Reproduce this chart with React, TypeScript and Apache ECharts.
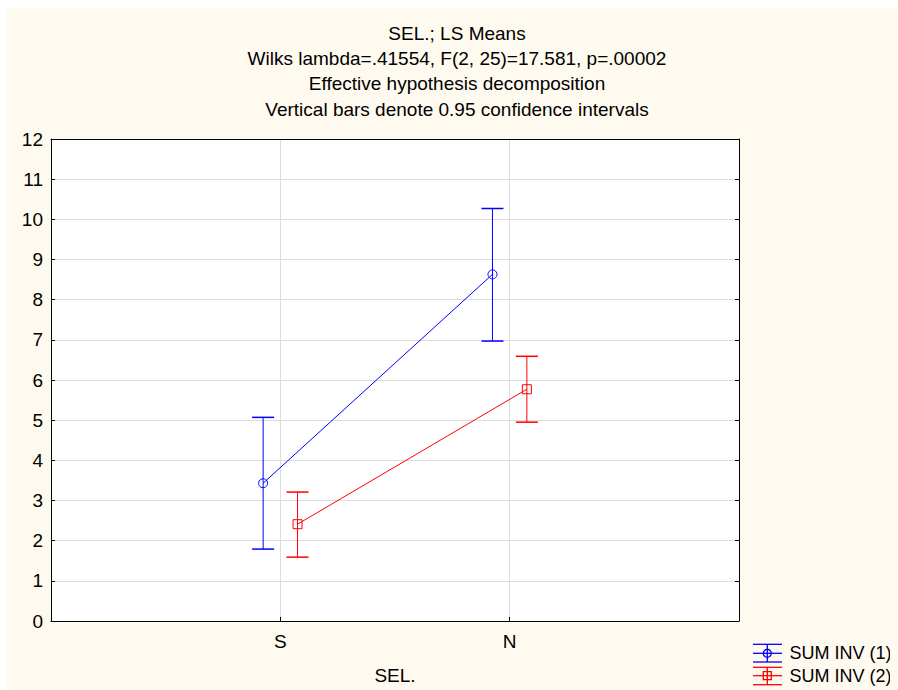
import React, { useEffect, useRef } from 'react';
import * as echarts from 'echarts';

const titleLines = [
  'SEL.; LS Means',
  'Wilks lambda=.41554, F(2, 25)=17.581, p=.00002',
  'Effective hypothesis decomposition',
  'Vertical bars denote 0.95 confidence intervals',
];
const xAxisTitle = 'SEL.';
const categories = ['S', 'N'];
const categoryPositions = [1, 2];
const seriesNames = ['SUM INV (1)', 'SUM INV (2)'];
const seriesColors = ['#0000ff', '#ff0000'];
const means1 = [3.43, 8.63];
const lower1 = [1.79, 6.97];
const upper1 = [5.07, 10.27];
const means2 = [2.41, 5.77];
const lower2 = [1.59, 4.95];
const upper2 = [3.21, 6.59];
const yMin = 0;
const yMax = 12;

const FONT = '"Liberation Sans", Arial, sans-serif';
const SHIFT = 0.075;
const CREAM = '#fffaf0';

function errorSeries(name: string, color: string, lows: number[], highs: number[], shift: number) {
  return {
    type: 'custom',
    name,
    xAxisIndex: 0,
    yAxisIndex: 0,
    silent: true,
    z: 2,
    data: lows.map((lo, i) => [categoryPositions[i] + shift, lo, highs[i]]),
    encode: { x: 0, y: [1, 2] },
    renderItem: (params: any, api: any) => {
      const x = api.value(0);
      const lo = api.value(1);
      const hi = api.value(2);
      const top = api.coord([x, hi]);
      const bot = api.coord([x, lo]);
      const hw = 11;
      const style = { stroke: color, lineWidth: 1, fill: 'none' };
      const capStyle = { stroke: color, lineWidth: 1.5, fill: 'none' };
      return {
        type: 'group',
        children: [
          { type: 'line', shape: { x1: top[0], y1: top[1], x2: bot[0], y2: bot[1] }, style },
          { type: 'line', shape: { x1: top[0] - hw, y1: top[1], x2: top[0] + hw, y2: top[1] }, style: capStyle },
          { type: 'line', shape: { x1: bot[0] - hw, y1: bot[1], x2: bot[0] + hw, y2: bot[1] }, style: capStyle },
        ],
      };
    },
  };
}

function meanSeries(name: string, color: string, means: number[], shift: number, symbol: string) {
  return {
    type: 'line',
    name,
    xAxisIndex: 0,
    yAxisIndex: 0,
    z: 3,
    data: means.map((m, i) => [categoryPositions[i] + shift, m]),
    symbol,
    symbolSize: 9,
    showAllSymbol: true,
    lineStyle: { color, width: 1 },
    itemStyle: { color: 'rgba(0,0,0,0)', borderColor: color, borderWidth: 1 },
  };
}

function legendGraphic() {
  const x1 = 745;
  const x2 = 774;
  const cx = 759.3;
  const blue = seriesColors[0];
  const red = seriesColors[1];
  const ls = (c: string) => ({ stroke: c, lineWidth: 1.3 });
  const rows = [
    { c: blue, ys: [636.3, 645.3, 654] },
    { c: red, ys: [659.3, 667.7, 676.7] },
  ];
  const els: any[] = [];
  rows.forEach((r) => {
    r.ys.forEach((y) => els.push({ type: 'line', shape: { x1, y1: y, x2, y2: y }, style: ls(r.c) }));
    els.push({ type: 'line', shape: { x1: cx, y1: r.ys[0], x2: cx, y2: r.ys[2] }, style: ls(r.c) });
  });
  els.push({ type: 'circle', shape: { cx, cy: 645.3, r: 4 }, style: { fill: 'none', stroke: blue, lineWidth: 1.3 } });
  els.push({ type: 'rect', shape: { x: cx - 4, y: 663.7, width: 8, height: 8 }, style: { fill: 'none', stroke: red, lineWidth: 1.3 } });
  els.push({ type: 'text', x: 781.5, y: 645.3, style: { text: seriesNames[0], font: `18px ${FONT}`, fill: '#000', verticalAlign: 'middle', align: 'left' } });
  els.push({ type: 'text', x: 781.5, y: 668.3, style: { text: seriesNames[1], font: `18px ${FONT}`, fill: '#000', verticalAlign: 'middle', align: 'left' } });
  return els;
}

export default function App() {
  const ref = useRef<HTMLDivElement>(null);
  useEffect(() => {
    if (!ref.current) return;
    const html = document.documentElement;
    html.style.overflow = 'hidden';
    document.body.style.overflow = 'hidden';
    html.style.background = `linear-gradient(to right, #ffffff 7px, rgba(255,255,255,0) 7px), linear-gradient(to bottom, #ffffff 8px, ${CREAM} 8px)`;
    const chart = echarts.init(ref.current, undefined, { renderer: 'svg' });
    const axisText = { fontSize: 19, color: '#000', fontFamily: FONT };
    chart.setOption({
      animation: false,
      backgroundColor: 'transparent',
      title: {
        text: titleLines.join('\n'),
        left: 449,
        top: 12.5,
        padding: 0,
        textAlign: 'center',
        textStyle: { fontSize: 19, fontWeight: 'normal', color: '#000', fontFamily: FONT, lineHeight: 25.3 },
      },
      grid: { left: 43, top: 131, right: 159, bottom: 69, show: true, backgroundColor: '#ffffff', borderWidth: 0 },
      xAxis: [
        {
          type: 'value',
          min: 0,
          max: 3,
          interval: 1,
          position: 'bottom',
          axisLine: { show: true, lineStyle: { color: '#000', width: 1 } },
          axisTick: { show: true, inside: true, length: 4, lineStyle: { color: '#000' } },
          axisLabel: {
            ...axisText,
            margin: 11,
            formatter: (v: number) => {
              const i = categoryPositions.indexOf(v);
              return i >= 0 ? categories[i] : '';
            },
          },
          splitLine: { show: true, lineStyle: { color: '#dcdcdc', width: 1 } },
          name: xAxisTitle,
          nameLocation: 'middle',
          nameGap: 45,
          nameTextStyle: axisText,
        },
        {
          type: 'value',
          min: 0,
          max: 3,
          position: 'top',
          axisLine: { show: true, onZero: false, lineStyle: { color: '#000', width: 1 } },
          axisTick: { show: false },
          axisLabel: { show: false },
          splitLine: { show: false },
        },
      ],
      yAxis: [
        {
          type: 'value',
          min: yMin,
          max: yMax,
          interval: 1,
          position: 'left',
          axisLine: { show: true, onZero: false, lineStyle: { color: '#000', width: 1 } },
          axisTick: { show: true, inside: true, length: 4, lineStyle: { color: '#000' } },
          axisLabel: { ...axisText, margin: 8 },
          splitLine: { show: true, lineStyle: { color: '#dcdcdc', width: 1 } },
        },
        {
          type: 'value',
          min: yMin,
          max: yMax,
          interval: 1,
          position: 'right',
          axisLine: { show: true, onZero: false, lineStyle: { color: '#000', width: 1 } },
          axisTick: { show: true, inside: true, length: 4, lineStyle: { color: '#000' } },
          axisLabel: { show: false },
          splitLine: { show: false },
        },
      ],
      series: [
        errorSeries(seriesNames[0], seriesColors[0], lower1, upper1, -SHIFT),
        errorSeries(seriesNames[1], seriesColors[1], lower2, upper2, SHIFT),
        meanSeries(seriesNames[0], seriesColors[0], means1, -SHIFT, 'circle'),
        meanSeries(seriesNames[1], seriesColors[1], means2, SHIFT, 'rect'),
      ],
      graphic: legendGraphic(),
    });
    return () => chart.dispose();
  }, []);
  return <div ref={ref} style={{ width: 890, height: 682, background: CREAM }} />;
}
